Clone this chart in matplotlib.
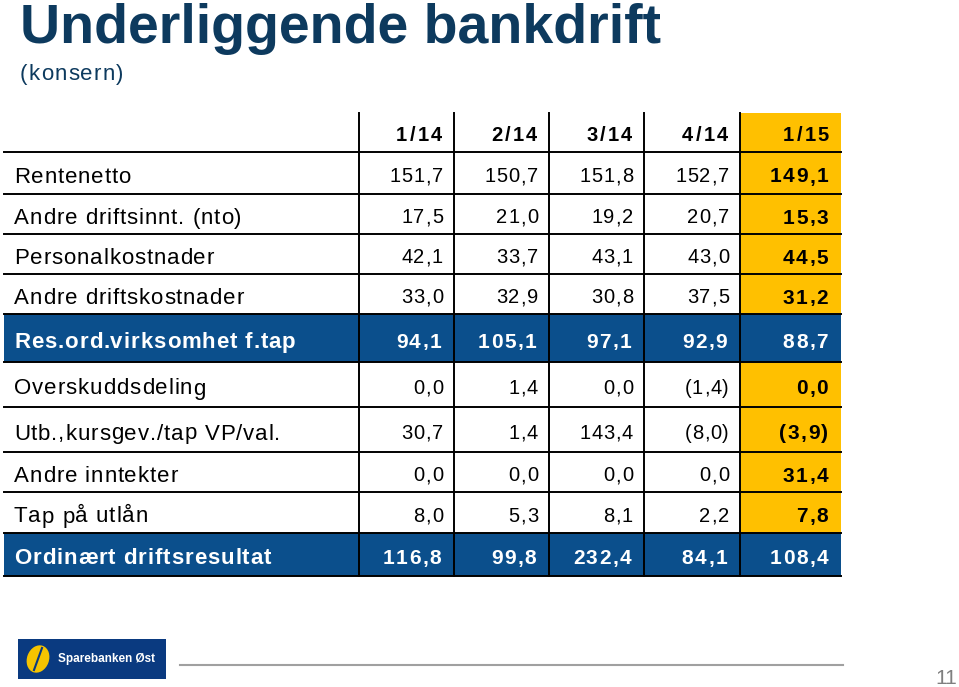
import matplotlib.pyplot as plt
from matplotlib.patches import Rectangle, Ellipse
from matplotlib.font_manager import FontProperties, findfont, get_font

plt.rcParams['font.family'] = ['Liberation Sans', 'DejaVu Sans']

periods = ["1/14", "2/14", "3/14", "4/14", "1/15"]
row_labels = ["Rentenetto", "Andre driftsinnt. (nto)", "Personalkostnader",
              "Andre driftskostnader", "Res.ord.virksomhet f.tap",
              "Overskuddsdeling", "Utb.,kursgev./tap VP/val.",
              "Andre inntekter", "Tap på utlån", "Ordinært driftsresultat"]
values = [
    [151.7, 150.7, 151.8, 152.7, 149.1],
    [17.5, 21.0, 19.2, 20.7, 15.3],
    [42.1, 33.7, 43.1, 43.0, 44.5],
    [33.0, 32.9, 30.8, 37.5, 31.2],
    [94.1, 105.1, 97.1, 92.9, 88.7],
    [0.0, 1.4, 0.0, -1.4, 0.0],
    [30.7, 1.4, 143.4, -8.0, -3.9],
    [0.0, 0.0, 0.0, 0.0, 31.4],
    [8.0, 5.3, 8.1, 2.2, 7.8],
    [116.8, 99.8, 232.4, 84.1, 108.4],
]
highlight = [False, False, False, False, True, False, False, False, False, True]

BLUE = "#0b4f8c"
ORANGE = "#ffc000"
NAVY = "#0d3a5e"
DPI = 100

# layout (pixels)
col_edges = [4, 359, 454, 549, 644, 740, 841]
row_edges = [113, 152, 194, 234, 274, 314, 362, 407, 452, 492, 533, 576]


def fmt(v):
    s = f"{abs(v):.1f}".replace(".", ",")
    return f"({s})" if v < 0 else s


def spaced_text(ax, x, yc, s, size, weight="normal", color="black", ha="left", track=1.0):
    # text with extra letter spacing, like the original slide
    fp = FontProperties(family="Liberation Sans", weight=weight, size=size)
    font = get_font(findfont(fp))
    font.set_size(size, DPI)
    pen, pos = 0.0, []
    for c in s:
        g = font.load_char(ord(c))
        pos.append((c, pen))
        pen += g.linearHoriAdvance / 65536 + track
    total = pen - track
    x0 = x - total if ha == "right" else x
    base = yc + 0.36 * size * DPI / 72
    for c, px in pos:
        if c != " ":
            ax.text(x0 + px, base, c, fontproperties=fp, color=color,
                    ha="left", va="baseline", zorder=4)


fig = plt.figure(figsize=(9.59, 6.87), dpi=DPI)
ax = fig.add_axes([0, 0, 1, 1])
ax.set_xlim(0, 959)
ax.set_ylim(687, 0)
ax.axis("off")

ax.text(20, 43, "Underliggende bankdrift", fontsize=40, fontweight="bold",
        color=NAVY, va="baseline", ha="left")
spaced_text(ax, 20, 72, "(konsern)", 16, color=NAVY, track=1.2)

# orange last column
ax.add_patch(Rectangle((col_edges[5], row_edges[0]), col_edges[6] - col_edges[5],
                       row_edges[-1] - row_edges[0], color=ORANGE, lw=0, zorder=1))

# header
for j, p in enumerate(periods):
    yc = (row_edges[0] + row_edges[1]) / 2 + 1
    spaced_text(ax, col_edges[j + 2] - 12, yc, p, 14.5, weight="bold",
                ha="right", track=2.2)

for i, lab in enumerate(row_labels):
    y0, y1 = row_edges[i + 1], row_edges[i + 2]
    yc = (y0 + y1) / 2 + 2
    hl = highlight[i]
    if hl:
        ax.add_patch(Rectangle((col_edges[0], y0), col_edges[6] - col_edges[0], y1 - y0,
                               color=BLUE, lw=0, zorder=2))
    tc = "white" if hl else "black"
    spaced_text(ax, 14, yc, lab, 16, weight="bold" if hl else "normal",
                color=tc, track=0.9)
    for j, v in enumerate(values[i]):
        bold = hl or j == 4
        if bold:
            spaced_text(ax, col_edges[j + 2] - 13, yc, fmt(v), 15, weight="bold",
                        color=tc, ha="right", track=1.5)
        else:
            spaced_text(ax, col_edges[j + 2] - 11, yc, fmt(v), 14.5,
                        color=tc, ha="right", track=0.8)

# grid lines
for y in row_edges[1:]:
    ax.plot([col_edges[0], col_edges[6]], [y, y], color="black", lw=1.4, zorder=3)
for x in col_edges[1:6]:
    ax.plot([x, x], [row_edges[0], row_edges[-1]], color="black", lw=1.4, zorder=3)

# footer
ax.add_patch(Rectangle((18, 639), 148, 40, color="#0a3a80", lw=0))
ax.add_patch(Ellipse((38, 659), 22, 28, angle=20, color="#f5c400", lw=0))
ax.plot([34, 42], [670, 648], color="#0a3a80", lw=1.5)
ax.text(58, 659, "Sparebanken Øst", fontsize=8.5, fontweight="bold", color="white",
        ha="left", va="center")
ax.plot([180, 843], [665, 665], color="#a0a0a0", lw=1.5)
ax.text(946, 679, "11", fontsize=15, color="#7f7f7f", ha="center", va="center")

fig.savefig("out.png", dpi=DPI)
